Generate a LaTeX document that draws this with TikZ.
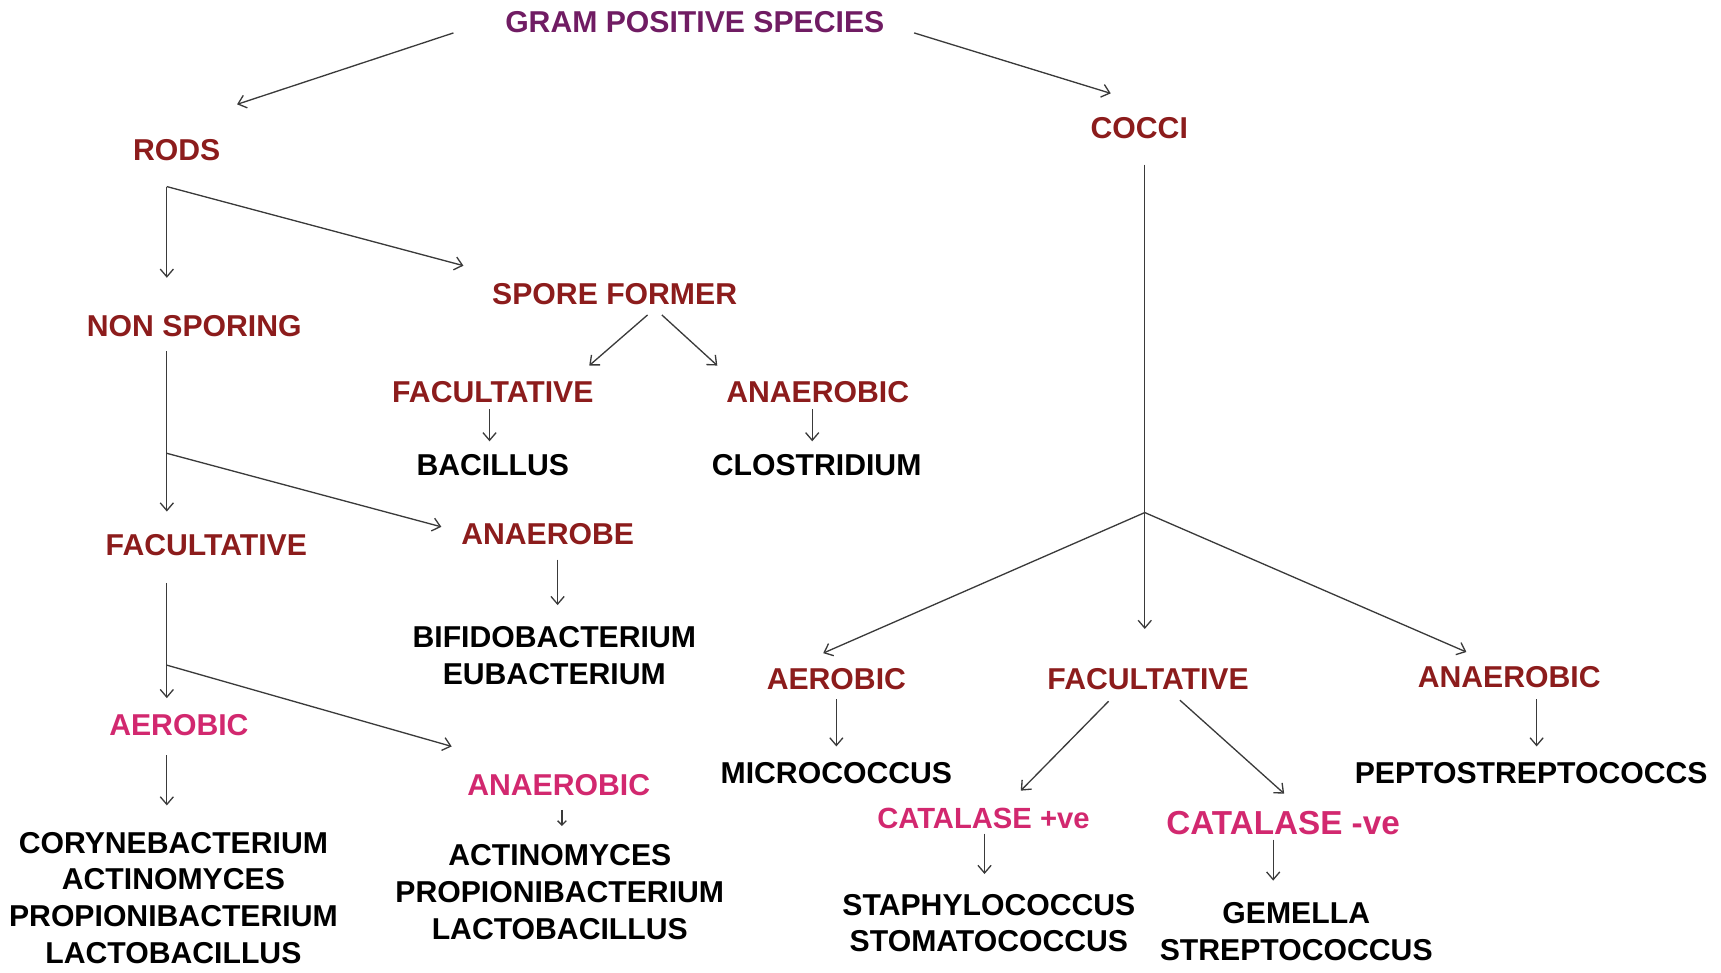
\documentclass[tikz,border=0pt]{standalone}
\usepackage{fontspec}
\setmainfont{Liberation Sans}
\usepackage{tikz}
\usetikzlibrary{arrows.meta}
\definecolor{titlepurple}{HTML}{701C63}
\definecolor{darkred}{HTML}{8C1C1C}
\definecolor{hotpink}{HTML}{D2286F}
\definecolor{inkgray}{HTML}{3A3A3A}

\begin{document}
\begin{tikzpicture}[x=1pt, y=-1pt, >={Straight Barb[length=7pt, width=12pt]},
    every node/.style={inner sep=0pt, align=center, font=\bfseries\fontsize{27.5}{33.5}\selectfont},
    title/.style={text=titlepurple},
    group/.style={text=darkred},
    oxy/.style={text=hotpink},
    genus/.style={text=black},
    link/.style={->, draw=inkgray, line width=1.2pt}]
        \useasboundingbox (0,0) rectangle (1568,886);

        % Nodes
        \node[title] (top) at (633,20) {GRAM POSITIVE SPECIES};
        \node[group] (rods) at (161,137) {RODS};
        \node[group] (cocci) at (1038,117) {COCCI};
        \node[group] (nonspor) at (177,297) {NON SPORING};
        \node[group] (spore) at (560,268) {SPORE FORMER};
        \node[group] (sfac) at (449,357) {FACULTATIVE};
        \node[group] (sana) at (745,357) {ANAEROBIC};
        \node[genus] (bacillus) at (449,424) {BACILLUS};
        \node[genus] (clostr) at (744,424) {CLOSTRIDIUM};
        \node[group] (nfac) at (188,497) {FACULTATIVE};
        \node[group] (nana) at (499,487) {ANAEROBE};
        \node[genus] (bifido) at (505,597) {BIFIDOBACTERIUM\\EUBACTERIUM};
        \node[oxy] (aer) at (163,661) {AEROBIC};
        \node[oxy] (ana) at (509,715) {ANAEROBIC};
        \node[genus] (coryne) at (158,818) {CORYNEBACTERIUM\\ACTINOMYCES\\PROPIONIBACTERIUM\\LACTOBACILLUS};
        \node[genus] (actino) at (510,813) {ACTINOMYCES\\PROPIONIBACTERIUM\\LACTOBACILLUS};
        \node[group] (caer) at (762,619) {AEROBIC};
        \node[group] (cfac) at (1046,619) {FACULTATIVE};
        \node[group] (cana) at (1375,617) {ANAEROBIC};
        \node[genus] (micro) at (762,704) {MICROCOCCUS};
        \node[genus] (pepto) at (1395,704) {PEPTOSTREPTOCOCCS};
        \node[oxy, font=\bfseries\fontsize{26.6}{32}\selectfont] (catpos) at (896,746) {CATALASE +ve};
        \node[oxy, font=\bfseries\fontsize{30.3}{36}\selectfont] (catneg) at (1169,750) {CATALASE -ve};
        \node[genus] (staph) at (901,841) {STAPHYLOCOCCUS\\STOMATOCOCCUS};
        \node[genus] (gemella) at (1181,849) {GEMELLA\\STREPTOCOCCUS};

        % Fork points
        \coordinate (rodsfork) at (152,170);
        \coordinate (nonsporfork) at (152,413);
        \coordinate (nfacfork) at (152,606);
        \coordinate (coccifork) at (1043,467);

        % Directed edges
        \draw[link] ([shift={(-47,10)}]top.west) -- ([shift={(55,-32)}]rods.north);
        \draw[link] ([shift={(27,10)}]top.east) -- ([shift={(-26,-22)}]cocci.north);
        \draw[link, shorten >=34pt] (rodsfork) -- (rodsfork |- nonspor.north);
        \draw[link] (rodsfork) -- ([shift={(-26,-16)}]spore.north west);
        \draw[link] ([shift={(30,9)}]spore.south) -- ([shift={(-4,-14)}]sfac.north east);
        \draw[link] ([shift={(43,9)}]spore.south) -- ([shift={(-8,-14)}]sana.north west);
        \draw[link, shorten <=6pt, shorten >=12pt] ([xshift=-3pt]sfac.south) -- ([xshift=-3pt]bacillus.north);
        \draw[link, shorten <=6pt, shorten >=12pt] ([xshift=-5pt]sana.south) -- ([xshift=-5pt]sana.south |- clostr.north);
        \draw[link, shorten <=13pt, shorten >=21pt] (nonsporfork |- nonspor.south) -- (nonsporfork |- nfac.north);
        \draw[link] (nonsporfork) -- ([shift={(-18,-7)}]nana.west);
        \draw[link, shorten <=13pt, shorten >=19pt] ([xshift=3pt]nana.south -| bifido.north) -- ([xshift=3pt]bifido.north);
        \draw[link, shorten <=24pt, shorten >=15pt] (nfacfork |- nfac.south) -- (nfacfork |- aer.north);
        \draw[link] (nfacfork) -- ([shift={(-14,-25)}]ana.north west);
        \draw[link, shorten <=17pt, shorten >=24pt] (nfacfork |- aer.south) -- (nfacfork |- coryne.north);
        \draw[link, >={Straight Barb[length=4pt, width=8pt]}, shorten <=13pt, shorten >=17pt] ([xshift=3pt]ana.south) -- ([xshift=3pt]ana.south |- actino.north);
        \draw[link, shorten <=23pt, shorten >=36pt] (coccifork |- cocci.south) -- (coccifork |- cfac.north);
        \draw[link] (coccifork) -- ([shift={(-12,-14)}]caer.north);
        \draw[link] (coccifork) -- ([shift={(-39,-13)}]cana.north);
        \draw[link, shorten <=8pt, shorten >=14pt] (caer.south) -- (caer.south |- micro.north);
        \draw[link] ([shift={(-36,10)}]cfac.south) -- ([shift={(34,-16)}]catpos.north);
        \draw[link] ([shift={(29,9)}]cfac.south) -- ([shift={(1,-16)}]catneg.north);
        \draw[link, shorten <=10pt, shorten >=14pt] ([xshift=5pt]cana.south -| pepto.north) -- ([xshift=5pt]pepto.north);
        \draw[link, shorten <=4pt, shorten >=18pt] ([xshift=1pt]catpos.south) -- ([xshift=1pt]catpos.south |- staph.north);
        \draw[link, shorten <=4pt, shorten >=20pt] ([xshift=-9pt]catneg.south) -- ([xshift=-9pt]catneg.south |- gemella.north);
    \end{tikzpicture}
\end{document}
